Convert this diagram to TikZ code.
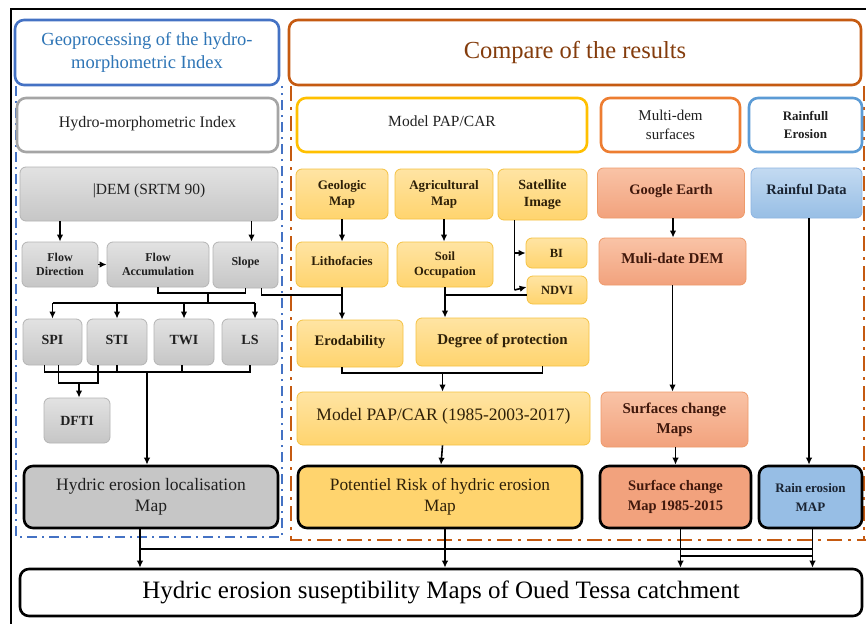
\documentclass[tikz,border=0pt]{standalone}
\usepackage{fontspec}
\setmainfont{Liberation Serif}
\usetikzlibrary{arrows.meta,calc}
\definecolor{bluefr}{HTML}{4472C4}
\definecolor{bluetx}{HTML}{2E75B6}
\definecolor{orgfr}{HTML}{C55A11}
\definecolor{orgtx}{HTML}{843C0C}
\definecolor{grayhd}{HTML}{A5A5A5}
\definecolor{goldhd}{HTML}{FFC000}
\definecolor{orghd}{HTML}{ED7D31}
\definecolor{bluehd}{HTML}{5B9BD5}
\definecolor{gtop}{HTML}{E2E2E2}
\definecolor{gbot}{HTML}{C6C6C6}
\definecolor{gbord}{HTML}{B4B4B4}
\definecolor{ytop}{HTML}{FFE4A3}
\definecolor{ybot}{HTML}{FFD46E}
\definecolor{ybord}{HTML}{F5C242}
\definecolor{otop}{HTML}{F9C3A6}
\definecolor{obot}{HTML}{F2A27D}
\definecolor{obord}{HTML}{EE9A6A}
\definecolor{btop}{HTML}{C3DAF1}
\definecolor{bbot}{HTML}{97BEE5}
\definecolor{bbord}{HTML}{8DB4E2}
\definecolor{gtx}{HTML}{202020}
\definecolor{ytx}{HTML}{2E2008}
\definecolor{otx}{HTML}{40180C}
\definecolor{btx}{HTML}{1A2433}
\newcommand\fz[2]{\fontsize{#1}{#2}\selectfont}
\begin{document}
\begin{tikzpicture}[x=1pt,y=-1pt,
  hdr/.style={draw, line width=2.6pt, rounded corners=9pt, fill=white, align=center, inner sep=1pt},
  gbox/.style={draw=gbord, line width=0.8pt, rounded corners=6pt, top color=gtop, bottom color=gbot, align=center, inner sep=1pt, text=gtx},
  ybox/.style={draw=ybord, line width=0.8pt, rounded corners=6pt, top color=ytop, bottom color=ybot, align=center, inner sep=1pt, text=ytx},
  obox/.style={draw=obord, line width=0.8pt, rounded corners=6pt, top color=otop, bottom color=obot, align=center, inner sep=1pt, text=otx},
  bbox/.style={draw=bbord, line width=0.8pt, rounded corners=6pt, top color=btop, bottom color=bbot, align=center, inner sep=1pt, text=btx},
  mapbox/.style={draw=black, line width=2.6pt, rounded corners=9pt, align=center, inner sep=1pt},
  ln/.style={line width=1.6pt},
  arr/.style={line width=1.6pt, -{Latex[length=7pt,width=6.5pt]}},
  bluedd/.style={draw=bluefr, line width=2pt, dash pattern=on 10pt off 5pt on 2pt off 5pt},
  orgdd/.style={draw=orgfr, line width=2.6pt, dash pattern=on 15pt off 6pt on 3pt off 6pt}
]
\useasboundingbox (0,0) rectangle (866,623);
\clip (0,0) rectangle (866,623);
\fill[white] (0,0) rectangle (866,623);
\draw[line width=1.6pt] (11,9) rectangle (880,640);

% dash-dot frames
\draw[bluedd] (16,86) -- (16,537) -- (282,537) -- (282,86);
\draw[orgdd] (291,86) -- (291,540) -- (866,540);
\draw[orgdd] (864,86) -- (864,540);

% headers
\node[hdr, draw=bluefr, text=bluetx, minimum width=264pt, minimum height=65pt, font=\fz{18.5}{22.5}] (geo) at (147,52.5) {Geoprocessing of the hydro-\\morphometric Index};
\node[hdr, draw=orgfr, text=orgtx, minimum width=572pt, minimum height=65pt, font=\fz{24.5}{28}] (cmp) at (575,52.5) {\raisebox{5pt}{Compare of the results}};
\node[hdr, draw=grayhd, text=gtx, minimum width=261pt, minimum height=54pt, font=\fz{16}{18}] (hmi) at (147.5,125) {\raisebox{7pt}{Hydro-morphometric Index}};
\node[hdr, draw=goldhd, text=gtx, minimum width=290pt, minimum height=54pt, font=\fz{15.5}{18}] (pap) at (442,125) {\raisebox{7pt}{Model PAP/CAR}};
\node[hdr, draw=orghd, text=gtx, minimum width=139pt, minimum height=54pt, font=\fz{15}{19}] (mds) at (670.5,125) {Multi-dem\\surfaces};
\node[hdr, draw=bluehd, text=gtx, minimum width=113pt, minimum height=54pt, font=\bfseries\fz{13}{18}] (rfe) at (805.5,125) {Rainfull\\Erosion};

% gray column
\node[gbox, minimum width=258pt, minimum height=54pt, font=\fz{15.5}{18}] (dem) at (149,194) {\raisebox{9pt}{|DEM (SRTM 90)}};
\node[gbox, minimum width=76pt, minimum height=45pt, font=\bfseries\fz{12}{14}] (fdir) at (60,264.5) {Flow\\Direction};
\node[gbox, minimum width=102pt, minimum height=45pt, font=\bfseries\fz{12}{14}] (facc) at (158,264.5) {Flow\\Accumulation};
\node[gbox, minimum width=65pt, minimum height=46pt, font=\bfseries\fz{12}{14}] (slope) at (245.5,265) {\raisebox{7pt}{Slope}};
\node[gbox, minimum width=59pt, minimum height=46pt, font=\bfseries\fz{14}{16}] (spi) at (52.5,342) {\raisebox{5pt}{SPI}};
\node[gbox, minimum width=60pt, minimum height=46pt, font=\bfseries\fz{14}{16}] (sti) at (117,342) {\raisebox{5pt}{STI}};
\node[gbox, minimum width=60pt, minimum height=46pt, font=\bfseries\fz{14}{16}] (twi) at (184,342) {\raisebox{5pt}{TWI}};
\node[gbox, minimum width=56pt, minimum height=46pt, font=\bfseries\fz{14}{16}] (ls) at (250,342) {\raisebox{5pt}{LS}};
\node[gbox, minimum width=66pt, minimum height=45pt, font=\bfseries\fz{14}{16}] (dfti) at (77,420.5) {DFTI};
\node[mapbox, fill=gbot, text=gtx, minimum width=254pt, minimum height=62pt, font=\fz{17.5}{21}] (loc) at (151,497) {Hydric erosion localisation\\Map};

% yellow column
\node[ybox, minimum width=92pt, minimum height=50pt, font=\bfseries\fz{13}{16}] (geol) at (342,194) {Geologic\\Map};
\node[ybox, minimum width=98pt, minimum height=50pt, font=\bfseries\fz{13}{16}] (agri) at (444,194) {Agricultural\\Map};
\node[ybox, minimum width=89pt, minimum height=51pt, font=\bfseries\fz{14}{17}] (sat) at (542.5,194.5) {Satellite\\Image};
\node[ybox, minimum width=92pt, minimum height=45pt, font=\bfseries\fz{13}{16}] (litho) at (342,264.5) {\raisebox{7pt}{Lithofacies}};
\node[ybox, minimum width=96pt, minimum height=45pt, font=\bfseries\fz{12.5}{15}] (soil) at (445,264.5) {Soil\\Occupation};
\node[ybox, minimum width=61pt, minimum height=30pt, font=\bfseries\fz{12.5}{15}] (bi) at (556.5,253) {BI};
\node[ybox, minimum width=60pt, minimum height=28pt, font=\bfseries\fz{12.5}{15}] (ndvi) at (557,290) {NDVI};
\node[ybox, minimum width=106pt, minimum height=47pt, font=\bfseries\fz{14.5}{17}] (erod) at (350,343.5) {\raisebox{6pt}{Erodability}};
\node[ybox, minimum width=173pt, minimum height=48pt, font=\bfseries\fz{15}{18}] (deg) at (502.5,342) {\raisebox{6pt}{Degree of protection}};
\node[ybox, minimum width=293pt, minimum height=53pt, font=\fz{17.5}{19}] (model) at (443.5,418.5) {\raisebox{8pt}{Model PAP/CAR (1985-2003-2017)}};
\node[mapbox, fill=ybot, text=ytx, minimum width=284pt, minimum height=62pt, font=\fz{17.3}{21}] (risk) at (440,497) {Potentiel Risk of hydric erosion\\Map};

% orange column
\node[obox, minimum width=147pt, minimum height=50pt, font=\bfseries\fz{14.5}{17}] (ge) at (671,193) {\raisebox{8pt}{Google Earth}};
\node[obox, minimum width=147pt, minimum height=47pt, font=\bfseries\fz{15}{18}] (mdem) at (672.5,261.5) {\raisebox{7pt}{Muli-date DEM}};
\node[obox, minimum width=147pt, minimum height=55pt, font=\bfseries\fz{15}{20}] (sch) at (674.5,419.5) {Surfaces change\\Maps};
\node[mapbox, fill=obot, text=otx, minimum width=151pt, minimum height=62pt, font=\bfseries\fz{14.5}{20}] (scm) at (675.5,497) {Surface change\\Map 1985-2015};

% blue column
\node[bbox, minimum width=111pt, minimum height=50pt, font=\bfseries\fz{14.5}{17}] (rd) at (806.5,193) {\raisebox{7pt}{Rainful Data}};
\node[mapbox, fill=bbot, text=btx, minimum width=103pt, minimum height=62pt, font=\bfseries\fz{13}{19}] (rem) at (810.5,497) {Rain erosion\\MAP};

% bottom
\node[mapbox, fill=white, text=black, minimum width=842pt, minimum height=47pt, font=\fz{25}{28}] (bot) at (441,592.5) {Hydric erosion suseptibility Maps of Oued Tessa catchment};

% coordinates for buses
\coordinate (b1) at (0,293);
\coordinate (b2) at (0,303);
\coordinate (b3) at (0,372);
\coordinate (b4) at (0,383);
\coordinate (b5) at (0,295);
\coordinate (b6) at (0,373);
\coordinate (b7) at (0,549);
\coordinate (b8) at (0,556);

% gray connectors
\draw[arr] (dem.south -| fdir) -- (fdir.north);
\draw[arr] ($(dem.south -| slope)+(6,0)$) -- ($(slope.north)+(6,0)$);
\draw[arr] (fdir.east) -- (facc.west);
\draw[ln] (facc.south) |- (slope.south |- b1) -- (slope.south);
\draw[ln] (208,293) -- (208,303);
\draw[ln] (spi.north |- b2) -- ($(ls.north |- b2)+(5,0)$);
\draw[arr] (spi.north |- b2) -- (spi.north);
\draw[arr] (sti.north |- b2) -- (sti.north);
\draw[arr] (twi.north |- b2) -- (twi.north);
\draw[arr] ($(ls.north |- b2)+(5,0)$) -- ($(ls.north)+(5,0)$);
\draw[ln] ($(spi.south)+(-8,0)$) |- ($(ls.south |- b3)$) -- (ls.south);
\draw[ln] (sti.south) -- (sti.south |- b3);
\draw[ln] ($(twi.south)+(-2,0)$) -- ($(twi.south |- b3)+(-2,0)$);
\draw[ln] ($(spi.south)+(6,0)$) |- ($(sti.south |- b4)+(-19,0)$) -- ($(sti.south)+(-19,0)$);
\draw[arr] ($(dfti.north |- b4)+(2,0)$) -- ($(dfti.north)+(2,0)$);
\draw[arr] ($(loc.north |- b3)+(-4,0)$) -- ($(loc.north)+(-4,0)$);

% yellow connectors
\draw[arr] (geol.south) -- (litho.north);
\draw[arr] (agri.south) -- (agri.south |- soil.north);
\draw[ln] ($(sat.south)+(-28,0)$) -- ($(sat.south |- ndvi.west)+(-28,0)$);
\draw[arr] ($(sat.south |- bi.west)+(-28,0)$) -- (bi.west);
\draw[arr] ($(sat.south |- ndvi.west)+(-28,0)$) -- ($(ndvi.west)+(0,-3)$);
\draw[ln] ($(slope.south)+(16,0)$) |- (litho.south |- b5);
\draw[arr] (litho.south) -- (litho.south |- erod.north);
\draw[ln] ($(ndvi.west)+(0,5)$) -- (soil.south |- b5);
\draw[arr] (soil.south) -- (soil.south |- deg.north);
\draw[ln] ($(erod.south)+(-8,0)$) |- ($(deg.south |- b6)+(40,0)$) -- ($(deg.south)+(40,0)$);
\draw[arr] ($(model.north |- b6)+(-1,0)$) -- ($(model.north)+(-1,0)$);
\draw[arr] ($(model.south)+(-1,0)$) -- ($(risk.north)+(1,0)$);

% orange connectors
\draw[arr] ($(ge.south)+(2,0)$) -- ($(mdem.north)+(0.5,0)$);
\draw[arr] (mdem.south) -- ($(sch.north)+(-2,0)$);
\draw[arr] ($(sch.south)+(1,0)$) -- ($(scm.north)+(0,0)$);

% blue connector
\draw[arr] ($(rd.south)+(2.5,0)$) -- ($(rem.north)+(-1.5,0)$);

% bottom connectors
\draw[ln] ($(loc.south)+(-11,0)$) -- ($(loc.south |- b7)+(-11,0)$) -- ($(rem.south |- b7)+(2,0)$);
\draw[ln] ($(risk.south)+(5,0)$) -- ($(risk.south |- b7)+(5,0)$);
\draw[ln] ($(scm.south)+(5,0)$) -- ($(scm.south |- b8)+(5,0)$) -- ($(rem.south |- b8)+(2,0)$);
\draw[ln] ($(rem.south)+(2,0)$) -- ($(rem.south |- b8)+(2,0)$);
\draw[arr] ($(loc.south |- b7)+(-11,0)$) -- ($(bot.north -| loc.south)+(-11,0)$);
\draw[arr] ($(risk.south |- b7)+(5,0)$) -- ($(bot.north -| risk.south)+(5,0)$);
\draw[arr] ($(scm.south |- b8)+(5,0)$) -- ($(bot.north -| scm.south)+(5,0)$);
\draw[arr] ($(rem.south |- b8)+(2,0)$) -- ($(bot.north -| rem.south)+(2,0)$);
\end{tikzpicture}
\end{document}
